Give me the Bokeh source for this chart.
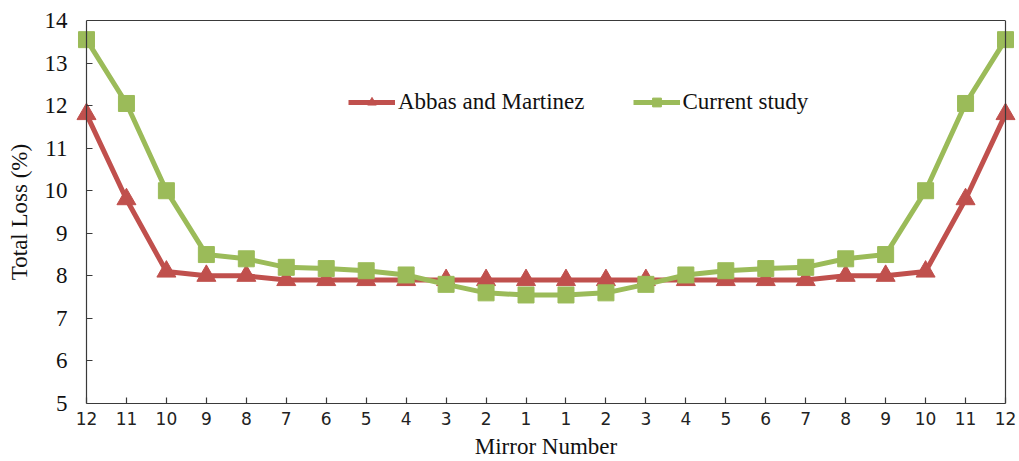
from bokeh.plotting import figure
from bokeh.models import Range1d, Legend, LegendItem, LinearAxis, FixedTicker
from bokeh.embed import file_html
from bokeh.resources import INLINE

# Mirror positions from one end of the row to the other
mirror_labels = ["12", "11", "10", "9", "8", "7", "6", "5", "4", "3", "2", "1",
                 "1", "2", "3", "4", "5", "6", "7", "8", "9", "10", "11", "12"]

# Total loss (%) per mirror
abbas_martinez = [11.8, 9.8, 8.1, 8.0, 8.0, 7.9, 7.9, 7.9, 7.9, 7.9, 7.9, 7.9,
                  7.9, 7.9, 7.9, 7.9, 7.9, 7.9, 7.9, 8.0, 8.0, 8.1, 9.8, 11.8]
current_study = [13.55, 12.05, 10.0, 8.5, 8.4, 8.2, 8.17, 8.12, 8.02, 7.8, 7.6, 7.55,
                 7.55, 7.6, 7.8, 8.02, 8.12, 8.17, 8.2, 8.4, 8.5, 10.0, 12.05, 13.55]

y_ticks = [5, 6, 7, 8, 9, 10, 11, 12, 13, 14]

RED = "#C0504D"
GREEN = "#9BBB59"
AXIS = "#3a3a3a"
SERIF = "Liberation Serif"

positions = list(range(len(mirror_labels)))
x_lo, x_hi = positions[0], positions[-1]
y_lo, y_hi = y_ticks[0], y_ticks[-1]

p = figure(width=1019, height=461, output_backend="svg", toolbar_location=None,
           x_range=Range1d(x_lo - 0.3, x_hi + 0.3), y_range=Range1d(y_lo, y_hi),
           x_axis_location=None, y_axis_location=None,
           min_border_left=74, min_border_right=2, min_border_top=20, min_border_bottom=57)
p.outline_line_color = None
p.xgrid.visible = False
p.ygrid.visible = False
p.background_fill_color = "white"

# bottom axis with mirror numbers
xaxis = LinearAxis(ticker=FixedTicker(ticks=positions), bounds=(x_lo, x_hi),
                   major_label_overrides={i: lab for i, lab in enumerate(mirror_labels)},
                   axis_label="Mirror Number")
xaxis.major_tick_in = 6
xaxis.major_tick_out = 0
xaxis.minor_tick_line_color = None
xaxis.axis_line_color = AXIS
xaxis.major_tick_line_color = AXIS
xaxis.axis_line_width = 1.2
xaxis.major_tick_line_width = 1.2
xaxis.major_label_text_font = "DejaVu Sans"
xaxis.major_label_text_font_size = "17px"
xaxis.major_label_text_color = "#222222"
xaxis.major_label_standoff = 8
xaxis.axis_label_text_font = SERIF
xaxis.axis_label_text_font_size = "23px"
xaxis.axis_label_text_font_style = "normal"
xaxis.axis_label_text_color = "#111111"
xaxis.axis_label_standoff = 6
p.add_layout(xaxis, "below")

# left axis: tick labels and title only
yaxis = LinearAxis(ticker=FixedTicker(ticks=y_ticks), axis_label="Total Loss (%)")
yaxis.axis_line_color = None
yaxis.major_tick_line_color = None
yaxis.minor_tick_line_color = None
yaxis.major_tick_in = 0
yaxis.major_tick_out = 0
yaxis.major_label_text_font = SERIF
yaxis.major_label_text_font_size = "23px"
yaxis.major_label_text_color = "#111111"
yaxis.major_label_standoff = 7
yaxis.axis_label_text_font = SERIF
yaxis.axis_label_text_font_size = "23px"
yaxis.axis_label_text_font_style = "normal"
yaxis.axis_label_text_color = "#111111"
yaxis.axis_label_standoff = 10
p.add_layout(yaxis, "left")

# axis line with inward ticks, pinned to the first mirror position (no labels)
yline = LinearAxis(ticker=FixedTicker(ticks=y_ticks), bounds=(y_lo, y_hi), fixed_location=x_lo,
                   major_label_overrides={t: "" for t in y_ticks},
                   major_label_text_font_size="0px", major_label_standoff=0,
                   major_tick_in=0, major_tick_out=6, minor_tick_line_color=None,
                   axis_line_color=AXIS, axis_line_width=1.2,
                   major_tick_line_color=AXIS, major_tick_line_width=1.2)
p.add_layout(yline, "right")

# frame lines on top and right
top = LinearAxis(ticker=FixedTicker(ticks=[]), bounds=(x_lo, x_hi),
                 major_label_text_font_size="0px", major_label_standoff=0,
                 major_tick_in=0, major_tick_out=0, minor_tick_line_color=None,
                 axis_line_color=AXIS, axis_line_width=1.2)
p.add_layout(top, "above")
right = LinearAxis(ticker=FixedTicker(ticks=[]), bounds=(y_lo, y_hi), fixed_location=x_hi,
                   major_label_text_font_size="0px", major_label_standoff=0,
                   major_tick_in=0, major_tick_out=0, minor_tick_line_color=None,
                   axis_line_color=AXIS, axis_line_width=1.2)
p.add_layout(right, "right")

# series
r_line = p.line(positions, abbas_martinez, line_color=RED, line_width=5)
r_pts = p.scatter(positions, abbas_martinez, marker="triangle", size=19,
                  fill_color=RED, line_color=RED)
g_line = p.line(positions, current_study, line_color=GREEN, line_width=5)
g_pts = p.scatter(positions, current_study, marker="square", size=16,
                  fill_color=GREEN, line_color=GREEN)

legend = Legend(items=[LegendItem(label="Abbas and Martinez", renderers=[r_line, r_pts]),
                       LegendItem(label="Current study", renderers=[g_line, g_pts])],
                orientation="horizontal", location=(274, 288),
                glyph_width=47, glyph_height=22, label_standoff=3, spacing=48,
                padding=0, margin=0, border_line_color=None, background_fill_alpha=0,
                label_text_font=SERIF, label_text_font_size="23px", label_text_color="#111111")
p.add_layout(legend, "center")

open("out.html", "w").write(file_html(p, INLINE))
